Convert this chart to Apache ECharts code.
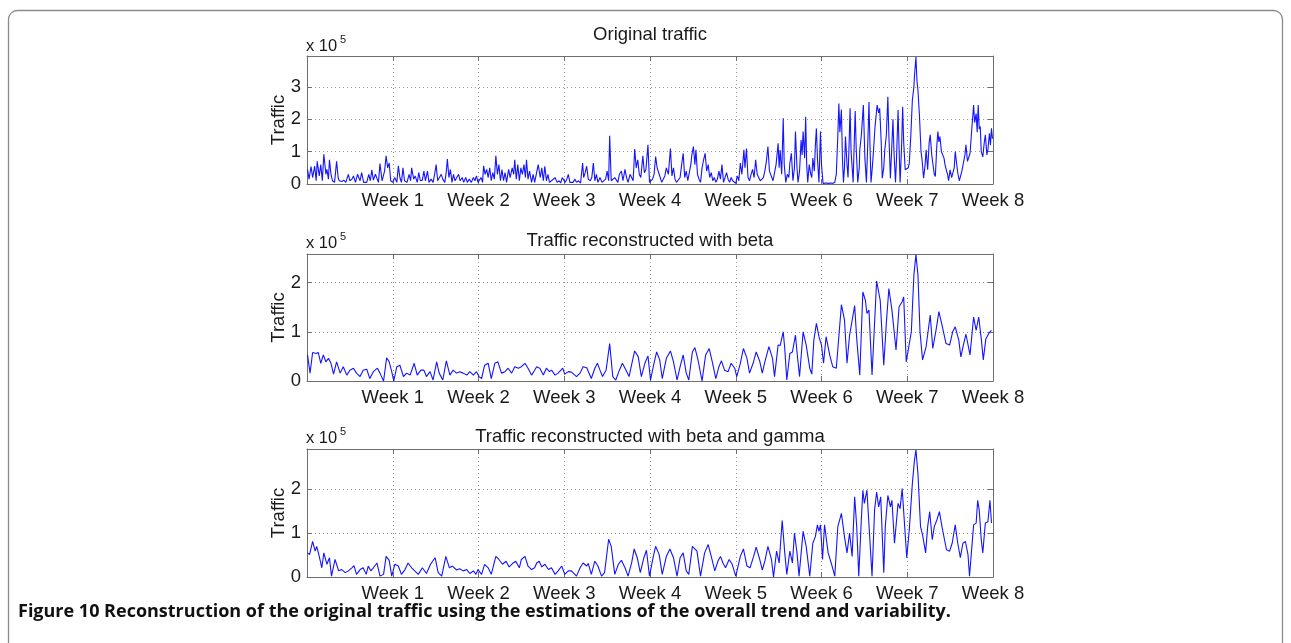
<!DOCTYPE html>
<html>
<head>
<meta charset="utf-8">
<script src="https://cdn.jsdelivr.net/npm/echarts@6/dist/echarts.min.js"></script>
<style>
  html, body { margin: 0; padding: 0; background: #ffffff; }
  #chart { width: 1291px; height: 643px; }
</style>
</head>
<body>
<div id="chart"></div>
<script>
// Hourly traffic over eight weeks, in units of 10^5. Each entry is [hour, value].
const HOURS_PER_WEEK = 168;
const weekLabels = ['Week 1', 'Week 2', 'Week 3', 'Week 4', 'Week 5', 'Week 6', 'Week 7', 'Week 8'];
const panelTitles = ['Original traffic', 'Traffic reconstructed with beta', 'Traffic reconstructed with beta and gamma'];
const yTopValues = [3.96, 2.58, 2.92];

const originalTraffic = [
  [1,0.45],[4,0.15],[8,0.54],[11,0.2],[15,0.55],[18,0.1],[20,0.7],[24,0.25],[27,0.6],[30,0.1],[33,0.92],[37,0.3],[39,0.45],[42,0.15],[44,0.75],[47,0.3],[50,0.1],[54,0.05],[58,0.7],[61,0.2],[63,0.1],[68,0.08],[72,0.12],[76,0.05],[81,0.3],[84,0.1],[88,0.15],[91,0.25],[95,0.05],[99,0.3],[104,0.1],[107,0.35],[111,0.05],[114,0.08],[117,0.05],[121,0.3],[124,0.1],[127,0.44],[130,0.12],[134,0.3],[137,0.25],[140,0.05],[143,0.63],[147,0.1],[150,0.05],[152,0.4],[155,0.87],[158,0.5],[161,0.65],[164,0.1],
  [168,0.05],[172,0.2],[176,0.05],[179,0.56],[182,0.2],[185,0.05],[188,0.5],[191,0.1],[196,0.05],[200,0.3],[203,0.1],[205,0.5],[209,0.15],[212,0.25],[216,0.05],[219,0.35],[222,0.1],[226,0.12],[229,0.4],[232,0.1],[236,0.4],[239,0.05],[243,0.15],[247,0.05],[250,0.3],[253,0.6],[256,0.1],[259,0.05],[263,0.3],[266,0.15],[270,0.05],[273,0.4],[275,0.77],[278,0.2],[281,0.45],[284,0.05],[287,0.3],[290,0.1],[293,0.05],[297,0.3],[300,0.1],[304,0.2],[307,0.05],[311,0.2],[314,0.05],[318,0.15],[322,0.05],[326,0.2],[329,0.1],[332,0.25],[335,0.05],
  [337,0.02],[341,0.2],[344,0.05],[346,0.56],[349,0.3],[352,0.45],[355,0.2],[358,0.5],[361,0.1],[364,0.35],[367,0.15],[370,0.87],[373,0.3],[376,0.6],[379,0.1],[382,0.45],[385,0.1],[388,0.35],[391,0.05],[395,0.45],[398,0.2],[402,0.5],[405,0.3],[407,0.75],[410,0.15],[413,0.6],[416,0.1],[419,0.5],[422,0.3],[425,0.6],[428,0.2],[430,0.75],[433,0.15],[436,0.4],[440,0.05],[443,0.3],[446,0.05],[449,0.1],[453,0.6],[457,0.2],[460,0.5],[463,0.1],[466,0.55],[469,0.1],[472,0.3],[475,0.05],[479,0.1],[482,0.05],[486,0.2],[490,0.05],[494,0.1],[497,0.03],[500,0.2],
  [503,0.25],[506,0.05],[509,0.15],[512,0.3],[515,0.05],[518,0.1],[521,0.05],[525,0.15],[528,0.05],[532,0.1],[536,0.03],[540,0.65],[542,0.2],[545,0.35],[548,0.55],[551,0.15],[555,0.1],[558,0.2],[561,0.65],[564,0.1],[567,0.3],[570,0.05],[574,0.2],[578,0.05],[581,0.03],[585,0.15],[588,0.4],[591,0.1],[593,1.49],[596,0.1],[599,0.05],[603,0.2],[606,0.15],[609,0.05],[612,0.3],[616,0.4],[619,0.1],[623,0.45],[626,0.2],[629,0.05],[633,0.3],[636,0.35],[639,0.1],[642,1.08],[645,0.5],[648,0.75],[651,0.3],[654,0.2],[658,0.87],[661,0.35],[664,0.45],[668,1.21],
  [671,0.05],[674,0.1],[677,0.15],[680,0.3],[683,0.85],[686,0.5],[689,0.45],[692,0.2],[695,0.05],[698,0.1],[701,0.25],[704,0.5],[708,0.3],[712,1.1],[715,0.25],[718,0.5],[721,0.15],[724,0.05],[727,0.1],[731,0.2],[734,0.6],[737,0.95],[740,0.2],[743,0.4],[746,0.1],[749,0.05],[752,0.6],[754,0.9],[757,1.16],[760,0.6],[762,1.06],[765,0.3],[768,0.15],[771,0.05],[774,0.5],[777,0.75],[780,0.95],[783,0.4],[786,0.6],[789,0.2],[792,0.35],[795,0.1],[798,0.2],[801,0.05],[804,0.15],[807,0.4],[810,0.15],[813,0.6],[816,0.05],[819,0.1],[822,0.35],[825,0.15],[828,0.05],[831,0.2],[834,0.1],[837,0.05],
  [840,0.02],[843,0.25],[846,0.1],[849,0.65],[852,0.3],[856,1.06],[858,0.5],[861,1.1],[864,0.2],[867,0.1],[870,0.3],[873,0.45],[876,0.2],[879,0.75],[882,0.3],[885,0.35],[888,0.1],[891,0.05],[894,0.2],[897,0.4],[900,0.7],[903,1.16],[906,0.4],[909,0.35],[913,0.1],[916,0.05],[919,0.6],[923,1.26],[925,0.5],[927,1.05],[930,0.3],[933,2.03],[935,0.6],[938,0.05],[941,0.3],[944,0.2],[946,0.65],[949,0.95],[952,0.1],[955,0.5],[957,1.62],[960,0.5],[962,0.05],[965,0.4],[968,1.36],[970,0.9],[972,1.62],[975,0.8],[977,2.08],[979,0.6],[981,0.05],[984,0.6],[987,0.3],[989,0.2],[991,0.8],[994,0.4],[996,1.2],[998,1.72],[1000,0.8],[1003,0.05],[1006,1.62],
  [1008,0.6],[1011,0.02],[1014,0.02],[1018,0.03],[1022,0.02],[1026,0.03],[1030,0.02],[1034,0.05],[1037,0.3],[1040,1.5],[1042,2.49],[1044,1.6],[1047,2.3],[1049,0.8],[1051,0.05],[1053,0.5],[1055,1.47],[1058,0.6],[1060,0.2],[1062,1.2],[1064,2.34],[1066,1.0],[1070,0.05],[1072,1.2],[1074,2.26],[1076,1.1],[1079,0.05],[1082,0.5],[1083,1.06],[1086,1.5],[1090,2.44],[1093,0.8],[1096,0.05],[1099,1.4],[1101,2.54],[1103,1.2],[1105,0.05],[1108,0.6],[1110,1.06],[1113,1.8],[1117,2.44],[1120,2.2],[1122,2.34],[1125,1.3],[1127,0.18],[1130,0.5],[1132,1.06],[1135,1.5],[1138,2.7],[1140,1.5],[1143,0.18],[1145,0.9],[1148,2.0],[1150,1.0],[1153,0.05],[1155,0.8],[1158,2.29],[1160,1.1],[1162,0.05],[1165,1.2],[1167,2.39],[1169,1.3],[1172,0.44],
  [1175,0.44],[1178,0.5],[1180,0.65],[1183,1.5],[1186,2.6],[1189,3.0],[1190,3.31],[1193,3.93],[1195,3.2],[1197,2.9],[1200,2.08],[1203,1.0],[1205,0.75],[1208,0.18],[1211,0.6],[1213,1.06],[1216,0.44],[1219,1.3],[1221,1.52],[1224,0.9],[1226,0.65],[1229,0.3],[1231,0.23],[1234,1.2],[1236,1.62],[1238,1.3],[1240,1.47],[1243,1.0],[1245,1.06],[1248,0.8],[1250,0.6],[1253,0.4],[1255,0.3],[1257,0.1],[1260,0.44],[1263,0.2],[1265,0.23],[1268,0.5],[1270,1.0],[1273,0.6],[1275,0.34],[1278,0.1],[1280,0.05],[1283,0.4],[1286,0.65],[1289,0.9],[1291,1.21],[1294,0.7],[1297,0.85],[1299,0.95],[1302,1.6],[1306,2.44],[1308,1.9],[1311,2.18],[1313,1.6],[1315,2.44],[1317,1.7],[1319,1.78],[1321,1.0],[1324,0.84],[1327,1.3],[1329,1.52],[1332,0.9],[1334,1.06],[1337,1.57],[1339,1.2],[1341,1.72],[1343,1.4]
];

const betaTraffic = [
  [1,0.53],[6,0.16],[11,0.58],[18,0.56],[22,0.58],[27,0.36],[32,0.53],[37,0.39],[42,0.46],[47,0.36],[52,0.14],[58,0.39],[65,0.16],[71,0.29],[78,0.12],[84,0.22],[91,0.26],[97,0.16],[104,0.09],[110,0.22],[117,0.24],[123,0.05],[130,0.19],[138,0.26],[143,0.16],[150,0.0],[156,0.47],[161,0.39],[166,0.19],
  [170,0.0],[176,0.29],[182,0.32],[189,0.09],[195,0.16],[202,0.12],[210,0.36],[216,0.12],[223,0.22],[229,0.22],[234,0.09],[241,0.19],[247,0.02],[254,0.39],[259,0.16],[266,0.02],[273,0.41],[280,0.12],[286,0.22],[293,0.16],[299,0.19],[306,0.16],[313,0.12],[319,0.19],[326,0.12],[332,0.19],
  [337,0.09],[342,0.05],[348,0.32],[355,0.36],[361,0.05],[368,0.36],[374,0.39],[381,0.16],[388,0.19],[394,0.26],[401,0.16],[407,0.29],[414,0.26],[420,0.29],[427,0.36],[433,0.26],[440,0.12],[446,0.22],[450,0.29],[456,0.26],[463,0.12],[469,0.26],[475,0.19],[479,0.22],[486,0.12],[492,0.16],[501,0.26],
  [505,0.14],[512,0.19],[518,0.18],[528,0.09],[535,0.16],[541,0.29],[548,0.27],[551,0.29],[557,0.05],[564,0.26],[569,0.36],[574,0.22],[579,0.09],[586,0.22],[593,0.76],[599,0.09],[605,0.02],[612,0.22],[618,0.36],[625,0.22],[631,0.09],[638,0.43],[642,0.61],[649,0.49],[655,0.09],[662,0.36],[668,0.51],
  [673,0.02],[679,0.32],[685,0.59],[691,0.43],[696,0.05],[704,0.46],[712,0.61],[718,0.39],[725,0.02],[731,0.29],[737,0.53],[743,0.16],[748,0.02],[755,0.59],[760,0.68],[766,0.43],[774,0.0],[781,0.53],[788,0.66],[794,0.39],[801,0.05],[807,0.29],[812,0.41],[818,0.22],[825,0.19],[831,0.36],[838,0.26],
  [842,0.09],[849,0.36],[855,0.66],[862,0.46],[867,0.16],[874,0.36],[880,0.59],[887,0.4],[892,0.16],[897,0.39],[905,0.7],[912,0.46],[916,0.09],[923,0.73],[927,0.72],[933,1.0],[936,0.66],[940,0.02],[946,0.56],[951,0.59],[957,0.93],[960,0.59],[965,0.09],[972,1.0],[978,0.73],[985,0.26],[989,0.14],[993,0.83],[998,1.17],[1003,0.9],
  [1008,0.73],[1012,0.36],[1017,0.9],[1024,0.53],[1030,0.29],[1037,0.26],[1047,1.55],[1053,1.24],[1058,0.36],[1063,0.93],[1073,1.53],[1077,0.86],[1083,0.12],[1089,1.81],[1094,1.64],[1097,1.37],[1101,1.44],[1107,0.12],[1116,2.03],[1123,1.64],[1130,0.32],[1135,1.17],[1140,1.88],[1146,1.44],[1154,0.63],[1160,1.51],[1166,1.61],[1169,1.71],[1174,0.39],
  [1177,0.36],[1184,1.0],[1189,2.15],[1193,2.57],[1197,2.15],[1201,1.0],[1206,0.43],[1213,0.7],[1221,1.34],[1226,0.66],[1233,1.07],[1238,1.41],[1244,1.14],[1252,0.76],[1259,0.73],[1265,1.0],[1270,1.1],[1277,0.83],[1281,0.49],[1286,0.73],[1291,0.95],[1299,0.53],[1306,1.3],[1311,1.03],[1316,1.3],[1321,0.86],[1325,0.43],[1330,0.86],[1336,0.97],[1341,1.03]
];

const betaGammaTraffic = [
  [1,0.55],[5,0.51],[11,0.81],[16,0.59],[19,0.7],[24,0.47],[29,0.21],[33,0.55],[39,0.29],[44,0.44],[48,0.02],[55,0.4],[62,0.14],[68,0.17],[75,0.1],[81,0.14],[88,0.21],[92,0.26],[97,0.06],[104,0.17],[110,0.21],[116,0.06],[120,0.25],[125,0.14],[130,0.21],[137,0.32],[143,0.02],[150,0.06],[155,0.47],[161,0.38],[166,0.02],
  [172,0.29],[179,0.25],[185,0.06],[192,0.17],[198,0.32],[205,0.21],[211,0.14],[218,0.06],[226,0.21],[234,0.08],[242,0.29],[251,0.44],[257,0.1],[264,0.02],[272,0.47],[279,0.21],[285,0.25],[293,0.16],[299,0.19],[306,0.14],[313,0.17],[319,0.08],[326,0.14],[331,0.06],
  [335,0.17],[342,0.06],[348,0.29],[355,0.21],[361,0.06],[370,0.47],[376,0.4],[383,0.29],[390,0.36],[396,0.23],[404,0.32],[409,0.36],[416,0.21],[420,0.4],[427,0.47],[433,0.25],[440,0.17],[446,0.21],[450,0.32],[455,0.36],[460,0.23],[466,0.29],[473,0.17],[479,0.21],[486,0.06],[492,0.14],[499,0.25],
  [505,0.06],[512,0.14],[518,0.14],[528,0.02],[535,0.21],[541,0.32],[548,0.25],[551,0.31],[557,0.06],[564,0.36],[570,0.25],[577,0.02],[583,0.1],[591,0.86],[596,0.7],[603,0.06],[610,0.29],[616,0.38],[623,0.21],[629,0.02],[636,0.32],[641,0.64],[647,0.44],[653,0.1],[660,0.44],[665,0.61],
  [671,0.02],[678,0.44],[683,0.7],[690,0.51],[696,0.06],[704,0.47],[711,0.64],[718,0.44],[725,0.02],[731,0.44],[737,0.55],[743,0.14],[748,0.06],[755,0.7],[758,0.74],[764,0.59],[771,0.02],[779,0.55],[786,0.74],[792,0.47],[799,0.14],[805,0.36],[810,0.47],[815,0.32],[820,0.21],[827,0.4],[833,0.29],
  [840,0.02],[849,0.47],[855,0.64],[862,0.25],[868,0.21],[875,0.47],[880,0.68],[887,0.4],[892,0.16],[897,0.36],[903,0.7],[910,0.4],[914,0.0],[920,0.59],[925,0.32],[931,1.29],[936,0.55],[940,0.06],[946,0.59],[951,0.32],[955,1.0],[960,0.55],[964,0.02],[972,1.04],[978,0.7],[985,0.02],[991,0.77],[996,0.92],[1000,1.19],[1003,1.04],[1006,1.19],
  [1010,0.4],[1014,1.19],[1021,0.55],[1027,0.32],[1034,0.02],[1040,1.15],[1047,1.45],[1053,0.92],[1058,0.55],[1063,1.0],[1068,0.47],[1073,1.83],[1077,1.15],[1081,0.02],[1086,1.3],[1089,1.98],[1092,1.68],[1097,1.98],[1102,1.0],[1107,0.02],[1112,1.53],[1116,1.94],[1120,1.6],[1124,1.83],[1130,0.1],[1133,1.15],[1138,1.86],[1143,1.6],[1146,1.75],[1151,0.77],[1158,1.68],[1162,1.56],[1166,2.02],[1171,1.15],
  [1175,0.44],[1180,1.08],[1186,2.13],[1190,2.65],[1193,2.9],[1197,2.35],[1202,1.15],[1206,0.96],[1212,0.55],[1216,1.15],[1220,1.49],[1225,0.85],[1229,1.15],[1234,1.3],[1239,1.49],[1244,1.15],[1249,0.85],[1253,0.62],[1259,0.59],[1264,0.77],[1270,1.19],[1275,0.77],[1280,0.44],[1285,0.77],[1290,0.81],[1295,0.51],[1298,0.02],[1306,1.19],[1311,1.23],[1314,1.75],[1317,1.53],[1321,0.85],[1324,0.55],[1329,1.23],[1334,1.26],[1338,1.75],[1341,1.23]
];

const seriesData = [originalTraffic, betaTraffic, betaGammaTraffic];

// Plot layout (pixels)
const PLOT_LEFT = 307;
const PLOT_WIDTH = 686;
const panels = [
  { top: 56, height: 128, titleY: 35, expY: 46 },
  { top: 254, height: 127, titleY: 241, expY: 243 },
  { top: 449, height: 128, titleY: 437, expY: 438 }
];

const FONT = '"Liberation Sans", Arial, Helvetica, sans-serif';
const TEXT_COLOR = '#1a1a1a';
const AXIS_COLOR = '#6e6e6e';
const GRID_COLOR = '#9a9a9a';
const LINE_COLOR = '#1414ff';
const LABEL_SIZE = 18.5;

const grids = [], xAxes = [], yAxes = [], series = [], graphics = [];

panels.forEach((p, i) => {
  grids.push({ left: PLOT_LEFT, width: PLOT_WIDTH, top: p.top, height: p.height });

  const boxLine = { show: true, onZero: false, lineStyle: { color: AXIS_COLOR, width: 1 } };
  const innerTick = { show: true, inside: true, length: 5, lineStyle: { color: AXIS_COLOR, width: 1 } };
  const dotted = { show: true, lineStyle: { color: GRID_COLOR, width: 1, type: [1, 3] } };

  xAxes.push({
    gridIndex: i, type: 'value', position: 'bottom',
    min: 0, max: HOURS_PER_WEEK * 8, interval: HOURS_PER_WEEK,
    axisLine: boxLine, axisTick: innerTick,
    axisLabel: {
      margin: 7, fontSize: LABEL_SIZE, fontFamily: FONT, color: TEXT_COLOR,
      formatter: v => (v === 0 ? '' : weekLabels[v / HOURS_PER_WEEK - 1])
    },
    splitLine: dotted
  });
  xAxes.push({
    gridIndex: i, type: 'value', position: 'top',
    min: 0, max: HOURS_PER_WEEK * 8, interval: HOURS_PER_WEEK,
    axisLine: boxLine, axisTick: innerTick,
    axisLabel: { show: false }, splitLine: { show: false }
  });

  yAxes.push({
    gridIndex: i, type: 'value', position: 'left',
    min: 0, max: yTopValues[i], interval: 1,
    axisLine: boxLine, axisTick: innerTick,
    axisLabel: {
      margin: 6, fontSize: LABEL_SIZE, fontFamily: FONT, color: TEXT_COLOR,
      showMaxLabel: false,
      formatter: v => (Math.abs(v - Math.round(v)) < 1e-9 ? String(Math.round(v)) : '')
    },
    splitLine: dotted
  });
  yAxes.push({
    gridIndex: i, type: 'value', position: 'right',
    min: 0, max: yTopValues[i], interval: 1,
    axisLine: boxLine, axisTick: innerTick,
    axisLabel: { show: false }, splitLine: { show: false }
  });

  series.push({
    type: 'line', xAxisIndex: i * 2, yAxisIndex: i * 2,
    data: seriesData[i], showSymbol: false, symbol: 'none', silent: true,
    lineStyle: { color: LINE_COLOR, width: 1.1 }, clip: true
  });

  // Panel title
  graphics.push({
    type: 'text', x: PLOT_LEFT + PLOT_WIDTH / 2, y: p.titleY, silent: true,
    style: { text: panelTitles[i], font: `${LABEL_SIZE}px ${FONT}`, fill: TEXT_COLOR, align: 'center', verticalAlign: 'middle' }
  });
  // Scale factor "x 10^5"
  graphics.push({
    type: 'text', x: PLOT_LEFT - 1, y: p.expY, silent: true,
    style: { text: 'x 10', font: `16.5px ${FONT}`, fill: TEXT_COLOR, align: 'left', verticalAlign: 'middle' }
  });
  graphics.push({
    type: 'text', x: PLOT_LEFT + 33, y: p.expY - 6, silent: true,
    style: { text: '5', font: `11px ${FONT}`, fill: TEXT_COLOR, align: 'left', verticalAlign: 'middle' }
  });
  // Y axis label
  graphics.push({
    type: 'text', x: 279, y: p.top + p.height / 2, rotation: Math.PI / 2, silent: true,
    style: { text: 'Traffic', font: `${LABEL_SIZE}px ${FONT}`, fill: TEXT_COLOR, align: 'center', verticalAlign: 'middle' }
  });
});

// Figure frame and caption
graphics.push({
  type: 'rect', silent: true, z: -1,
  shape: { x: 8.5, y: 10.5, width: 1274, height: 700, r: 9 },
  style: { fill: 'none', stroke: '#8a8a8a', lineWidth: 1.3 }
});
graphics.push({
  type: 'text', x: 18, y: 612, silent: true,
  style: {
    text: 'Figure 10 Reconstruction of the original traffic using the estimations of the overall trend and variability.',
    font: 'bold 18px "Open Sans", sans-serif', fill: '#111111', align: 'left', verticalAlign: 'middle'
  }
});

const chart = echarts.init(document.getElementById('chart'), null, { renderer: 'canvas' });
chart.setOption({
  animation: false,
  backgroundColor: '#ffffff',
  grid: grids,
  xAxis: xAxes,
  yAxis: yAxes,
  series: series,
  graphic: graphics
});
</script>
</body>
</html>
